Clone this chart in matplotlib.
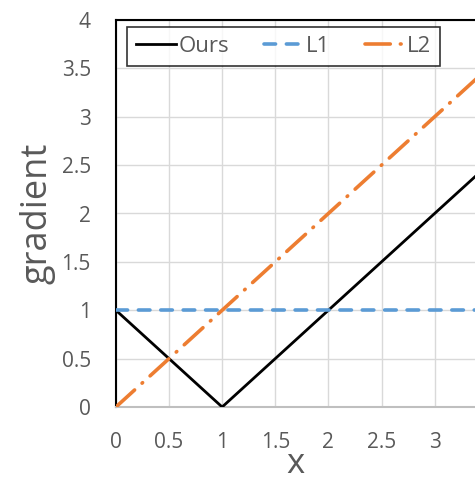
import matplotlib.pyplot as plt
import numpy as np

xs = [0, 1, 2, 3, 4]
ours = [1, 0, 1, 2, 3]
l1 = [1, 1, 1, 1, 1]
l2 = [0, 1, 2, 3, 4]

xticks = [0, 0.5, 1, 1.5, 2, 2.5, 3]
yticks = [0, 0.5, 1, 1.5, 2, 2.5, 3, 3.5, 4]

plt.rcParams['font.family'] = ['Open Sans', 'DejaVu Sans']
gray = '#595959'

fig = plt.figure(figsize=(4.75, 4.88), dpi=100)
ax = fig.add_axes([0.244, 0.166, 0.756, 0.793])

ax.plot(xs, ours, color='black', lw=2, label='Ours', zorder=3)
ax.plot(xs, l1, color='#5B9BD5', lw=2.6, ls=(0, (3.2, 3.0)), dash_capstyle='round',
        label='L1', zorder=3)
ax.plot(xs, l2, color='#ED7D31', lw=2.6, ls=(0, (7, 2.8, 0.2, 2.8)), dash_capstyle='round',
        label='L2', zorder=3)

ax.set_xlim(0, 3.38)
ax.set_ylim(0, 4)
ax.set_xticks(xticks)
ax.set_xticklabels([f'{v:g}' for v in xticks])
ax.set_yticks(yticks)
ax.set_yticklabels([f'{v:g}' for v in yticks])
ax.tick_params(length=0, labelsize=15, colors=gray)
ax.tick_params(axis='x', pad=18)
ax.tick_params(axis='y', pad=18)
ax.grid(color='#D9D9D9', lw=1)
ax.set_axisbelow(True)

for s in ['left', 'top']:
    ax.spines[s].set_color('black')
    ax.spines[s].set_linewidth(1.5)
ax.spines['right'].set_visible(False)
ax.spines['bottom'].set_color('#BFBFBF')
ax.spines['bottom'].set_linewidth(1.5)

ax.set_xlabel('x', fontsize=25, color=gray, labelpad=-4)
ax.set_ylabel('gradient', fontsize=26, color=gray, labelpad=4)

leg = ax.legend(loc='upper left', bbox_to_anchor=(0.031, 0.0, 0.872, 0.982), mode='expand',
                ncol=3, fontsize=16, frameon=True, fancybox=False, edgecolor='black',
                handlelength=1.8, columnspacing=1.0, handletextpad=0.1, borderpad=0.4,
                borderaxespad=0)
leg.get_frame().set_linewidth(1.2)
for t in leg.get_texts():
    t.set_color(gray)

fig.savefig('out.png', dpi=100)
